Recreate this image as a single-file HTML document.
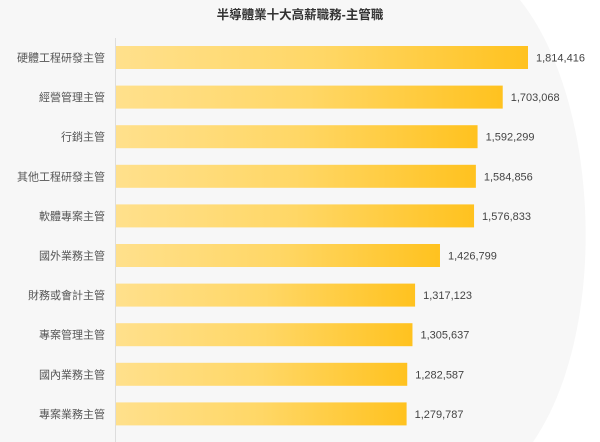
<!DOCTYPE html>
<html><head><meta charset="utf-8"><style>
html,body{margin:0;padding:0;background:#f7f7f7;}
svg{display:block;font-family:"Liberation Sans","Noto Sans CJK TC",sans-serif;}
</style></head><body>
<svg width="600" height="442" viewBox="0 0 600 442">
<defs><linearGradient id="g" x1="0" x2="1" y1="0" y2="0"><stop offset="0" stop-color="#ffe08c"/><stop offset="0.5" stop-color="#ffd766"/><stop offset="1" stop-color="#ffc21f"/></linearGradient></defs>
<rect width="600" height="442" fill="#f7f7f7"/>
<path d="M520,0 C600,100 610,330 533,442 L600,442 L600,0 Z" fill="#ffffff"/>
<text x="300" y="19" text-anchor="middle" font-size="12.5" font-weight="bold" fill="#333">半導體業十大高薪職務-主管職</text>
<line x1="115.5" y1="38" x2="115.5" y2="442" stroke="#ddd"/>
<g id="bars"></g>
</svg>
<script>
const categories=["硬體工程研發主管","經營管理主管","行銷主管","其他工程研發主管","軟體專案主管","國外業務主管","財務或會計主管","專案管理主管","國內業務主管","專案業務主管"];
const values=[1814416,1703068,1592299,1584856,1576833,1426799,1317123,1305637,1282587,1279787];
const valueLabels=["1,814,416","1,703,068","1,592,299","1,584,856","1,576,833","1,426,799","1,317,123","1,305,637","1,282,587","1,279,787"];
const x0=116, pxPer=412/1814416;
const xs=v=>x0+v*pxPer;
const yTop=i=>46+i*39.6;
const ns="http://www.w3.org/2000/svg";
const g=document.getElementById('bars');
categories.forEach((c,i)=>{
 const y=yTop(i);
 const r=document.createElementNS(ns,'rect');
 
 
 r.setAttribute('x',x0);r.setAttribute('y',y);r.setAttribute('width',xs(values[i])-x0);r.setAttribute('height',23);r.setAttribute('fill','url(#g)');
 g.appendChild(r);
 const t=document.createElementNS(ns,'text');
 
 
 t.setAttribute('x',105);t.setAttribute('y',y+15.5);t.setAttribute('text-anchor','end');t.setAttribute('font-size','11');t.setAttribute('fill','#555');
 t.textContent=c;g.appendChild(t);
 const v=document.createElementNS(ns,'text');
 
 
 v.setAttribute('x',xs(values[i])+8);v.setAttribute('y',y+15.5);v.setAttribute('font-size','11');v.setAttribute('fill','#444');
 v.textContent=valueLabels[i];g.appendChild(v);
});
</script>
</body></html>
